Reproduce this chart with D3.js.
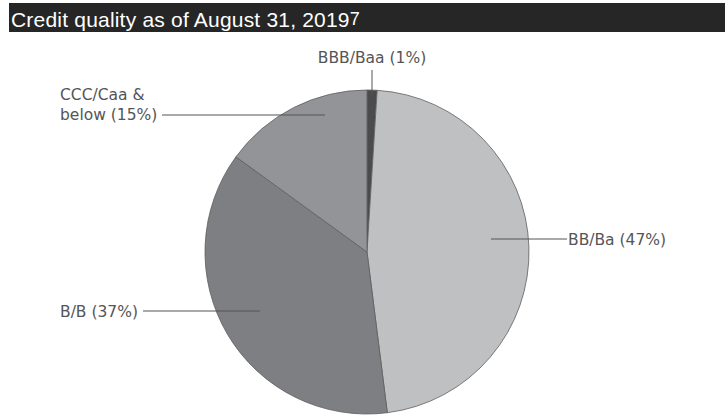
<!DOCTYPE html>
<html>
<head>
<meta charset="utf-8">
<script src="https://cdn.jsdelivr.net/npm/d3@7"></script>
<style>
  html, body { margin: 0; padding: 0; background: #fff; }
  svg { display: block; }
</style>
</head>
<body>
<svg id="chart" width="728" height="416"></svg>
<script>
// Credit quality breakdown, clockwise from 12 o'clock
const categories = ["BBB/Baa", "BB/Ba", "B/B", "CCC/Caa & below"];
const values = [1, 47, 37, 15];
const labelLines = [["BBB/Baa (1%)"], ["BB/Ba (47%)"], ["B/B (37%)"], ["CCC/Caa &", "below (15%)"]];
const sliceColors = ["#4b4b4d", "#bfc0c2", "#7e7f82", "#939497"];

const titleText = "Credit quality as of August 31, 2019";
const titleNote = "7";

// Layout of labels and leader lines (pixels)
const layout = {
  cx: 367, cy: 252, r: 162,
  labels: [
    { x: 372, y: 63, anchor: "middle", leader: [[372, 70], [372, 95]] },
    { x: 568, y: 245, anchor: "start", leader: [[491, 239], [567, 239]] },
    { x: 60, y: 317, anchor: "start", leader: [[143, 311], [260, 311]] },
    { x: 60, y: 100, anchor: "start", leader: [[162, 115], [325, 115]] }
  ]
};

const svg = d3.select("#chart");

// Title bar
svg.append("rect")
  .attr("x", 9).attr("y", 3).attr("width", 716).attr("height", 29)
  .attr("fill", "#262626");
const title = svg.append("text")
  .attr("x", 11).attr("y", 27)
  .attr("fill", "#ffffff")
  .attr("font-family", "Liberation Sans, Arial, sans-serif")
  .attr("font-size", 21)
  .attr("letter-spacing", 0.2)
  .text(titleText);
title.append("tspan")
  .attr("font-size", 18)
  .attr("dy", -2)
  .text(titleNote);

// Pie
const pie = d3.pie().sort(null).value(d => d.value);
const arcs = pie(categories.map((c, i) => ({ name: c, value: values[i], color: sliceColors[i] })));
const arc = d3.arc().innerRadius(0).outerRadius(layout.r);

const g = svg.append("g").attr("transform", `translate(${layout.cx},${layout.cy})`);
g.selectAll("path.slice")
  .data(arcs)
  .join("path")
  .attr("class", "slice")
  .attr("d", arc)
  .attr("fill", d => d.data.color)
  .attr("stroke", "#5e5e60")
  .attr("stroke-width", 0.8)
  .attr("stroke-linejoin", "round");

// Leader lines
svg.selectAll("line.leader")
  .data(layout.labels)
  .join("line")
  .attr("class", "leader")
  .attr("x1", d => d.leader[0][0]).attr("y1", d => d.leader[0][1])
  .attr("x2", d => d.leader[1][0]).attr("y2", d => d.leader[1][1])
  .attr("stroke", "#555557")
  .attr("stroke-width", 1);

// Labels
svg.selectAll("text.label")
  .data(layout.labels)
  .join("text")
  .attr("class", "label")
  .attr("x", d => d.x).attr("y", d => d.y)
  .attr("text-anchor", d => d.anchor)
  .attr("fill", "#555557")
  .attr("font-family", "DejaVu Sans, sans-serif")
  .attr("font-size", 15.5)
  .each(function (d, i) {
    d3.select(this).selectAll("tspan")
      .data(labelLines[i])
      .join("tspan")
      .attr("x", d.x)
      .attr("dy", (t, j) => j === 0 ? 0 : 20)
      .text(t => t);
  });
</script>
</body>
</html>
